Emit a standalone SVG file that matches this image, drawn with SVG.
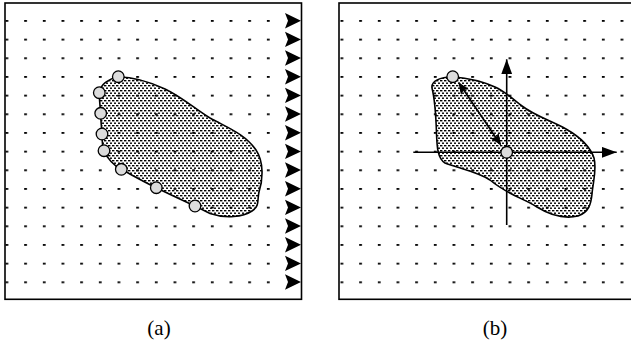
<svg xmlns="http://www.w3.org/2000/svg" width="631" height="344" viewBox="0 0 631 344">
<style>
.frame{fill:none;stroke:#000;stroke-width:1.6}
.blob{fill:url(#stip);stroke:#000;stroke-width:1.6}
.pt{fill:#dcdcdc;stroke:#000;stroke-width:1.3}
.axis{stroke:#000;stroke-width:1.6;fill:none}
.lbl{font-family:"Liberation Serif","Times New Roman",serif;font-size:21px;fill:#000}
.tri{fill:#000}
</style>
<defs>
<pattern id="gridL" patternUnits="userSpaceOnUse" x="5.5" y="20" width="18.67" height="18.67">
<rect x="0" y="0" width="2.8" height="1.8" fill="#000"/>
</pattern>
<pattern id="gridR" patternUnits="userSpaceOnUse" x="340.5" y="20" width="18.67" height="18.67">
<rect x="0" y="0" width="2.8" height="1.8" fill="#000"/>
</pattern>
<pattern id="stip" patternUnits="userSpaceOnUse" x="0" y="0" width="4" height="5">
<rect x="0" y="0" width="2.4" height="1.4" fill="#000"/>
<rect x="2" y="2.5" width="2.4" height="1.4" fill="#000"/>
</pattern>
<marker id="ah" viewBox="0 0 12 10" refX="11" refY="5" markerWidth="12" markerHeight="10" markerUnits="userSpaceOnUse" orient="auto-start-reverse">
<path d="M0,0 L12,5 L0,10 L2.5,5 Z" fill="#000"/>
</marker>
<marker id="ahBig" viewBox="0 0 15 11" refX="15" refY="5.5" markerWidth="15" markerHeight="11" markerUnits="userSpaceOnUse" orient="auto">
<path d="M0,0 L15,5.5 L0,11 Z" fill="#000"/>
</marker>
</defs>
<rect width="631" height="344" fill="#fff"/>

<g id="panel-a">
<rect x="5" y="15" width="266" height="275" fill="url(#gridL)"/>
<g id="blob-a">
<path class="blob" d="M118.3,76.7 C132,77 150,82 165,89 C182,97 195,109 210,118 C228,128 245,134 256,150 C264,162 263,180 259,192 C257,200 260,206 252,211 C243,217 226,219 210,213.5 C205,211 200,208.5 195,206 C182,200 169,194 156.3,187.7 C144,182 132,175 121.3,169.3 C114,166 107,158 104,150.7 C102,145 102,140 102,134 C101.5,127 100.7,120 100.7,113.3 C100,106 99.3,99 99.3,92.7 C100,85 108,79 118.3,76.7 Z"/>
</g>
<g id="points-a">
<circle class="pt" cx="118.3" cy="76.7" r="5.8"/>
<circle class="pt" cx="99.3" cy="92.7" r="5.8"/>
<circle class="pt" cx="100.7" cy="113.3" r="5.8"/>
<circle class="pt" cx="102" cy="134" r="5.8"/>
<circle class="pt" cx="104" cy="150.7" r="5.8"/>
<circle class="pt" cx="121.3" cy="169.3" r="5.8"/>
<circle class="pt" cx="156.3" cy="187.7" r="5.8"/>
<circle class="pt" cx="195" cy="206" r="5.8"/>
</g>
<g id="triangles-a">
<path class="tri" d="M285,13 L301,20.7 L285,28.4 L288,20.7 Z"/>
<path class="tri" d="M285,31.7 L301,39.4 L285,47.1 L288,39.4 Z"/>
<path class="tri" d="M285,50.3 L301,58 L285,65.7 L288,58 Z"/>
<path class="tri" d="M285,69 L301,76.7 L285,84.4 L288,76.7 Z"/>
<path class="tri" d="M285,87.7 L301,95.4 L285,103.1 L288,95.4 Z"/>
<path class="tri" d="M285,106.3 L301,114 L285,121.7 L288,114 Z"/>
<path class="tri" d="M285,125 L301,132.7 L285,140.4 L288,132.7 Z"/>
<path class="tri" d="M285,143.7 L301,151.4 L285,159.1 L288,151.4 Z"/>
<path class="tri" d="M285,162.3 L301,170 L285,177.7 L288,170 Z"/>
<path class="tri" d="M285,181 L301,188.7 L285,196.4 L288,188.7 Z"/>
<path class="tri" d="M285,199.7 L301,207.4 L285,215.1 L288,207.4 Z"/>
<path class="tri" d="M285,218.3 L301,226 L285,233.7 L288,226 Z"/>
<path class="tri" d="M285,237 L301,244.7 L285,252.4 L288,244.7 Z"/>
<path class="tri" d="M285,255.7 L301,263.4 L285,271.1 L288,263.4 Z"/>
<path class="tri" d="M285,274.3 L301,282 L285,289.7 L288,282 Z"/>
</g>
<rect class="frame" x="5" y="3" width="296.5" height="296.3"/>
<text class="lbl" x="159" y="335" text-anchor="middle">(a)</text>
</g>

<g id="panel-b">
<rect x="340" y="15" width="291" height="275" fill="url(#gridR)"/>
<g id="blob-b">
<path class="blob" d="M452.7,76.7 C468,78 482,81 495,87 C506,92 514,100 522,106 C535,116 552,121 566,129 C580,137 590,146 594,158 C597,170 593,182 592,194 C591,204 589,212 578,216 C565,219 550,215 537,207 C525,199 508,195 490,180 C478,172 458,168 445,163 C437,158 437,145 436.5,133 C436,118 435,100 432,88 C431,81 440,77 452.7,76.7 Z"/>
</g>
<g id="connectors">
<line class="axis" x1="413.3" y1="152.3" x2="616.7" y2="152.3" marker-end="url(#ahBig)"/>
<line class="axis" x1="506.7" y1="225" x2="506.7" y2="59.3" marker-end="url(#ahBig)"/>
<line class="axis" x1="459" y1="83" x2="500.5" y2="144.5" marker-start="url(#ah)" marker-end="url(#ah)"/>
</g>
<g id="points-b">
<circle class="pt" cx="452.7" cy="76.7" r="5.8"/>
<circle class="pt" cx="506.7" cy="152.3" r="5.8"/>
</g>
<rect class="frame" x="339" y="3" width="300" height="296.3"/>
<text class="lbl" x="495" y="335" text-anchor="middle">(b)</text>
</g>
</svg>
